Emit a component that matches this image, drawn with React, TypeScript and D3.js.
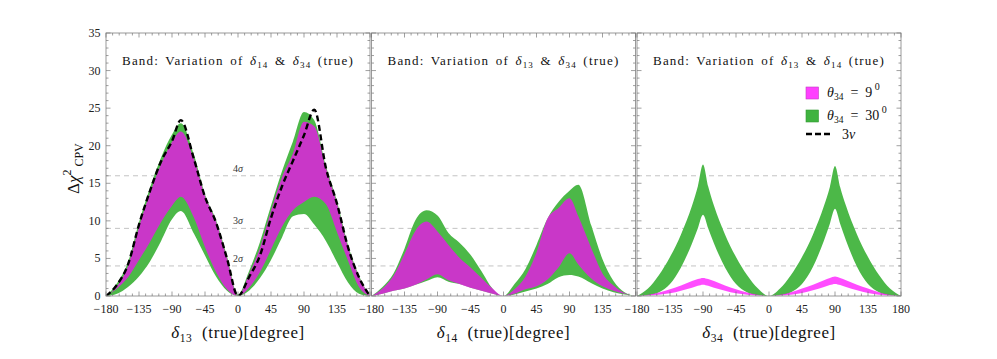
import React from "react";
import * as d3 from "d3";

// panel 1: δ13 (true)
const d13X = [-180, -165, -150, -135, -120, -105, -90, -78, -60, -45, -30, -15, 0, 15, 30, 45, 60, 75, 90, 104, 120, 135, 150, 165, 180];
const d13Nu3 = [0, 1.5, 4.2, 9.5, 14.0, 17.9, 20.6, 23.4, 18.2, 13.2, 9.8, 5.0, 0, 2.5, 5.4, 10.4, 14.6, 18.0, 21.4, 24.8, 17.0, 12.3, 6.5, 2.5, 0];
const d13GreenHi = [0, 1.7, 4.5, 9.8, 14.4, 18.4, 21.5, 23.0, 18.8, 13.5, 10.1, 5.3, 0.2, 3.3, 7.2, 12.0, 16.6, 20.6, 24.5, 23.4, 17.3, 12.6, 6.8, 2.7, 0];
const d13GreenLo = [0, 0.3, 1.2, 2.6, 4.6, 7.3, 10.2, 11.3, 8.3, 5.4, 2.6, 0.7, 0, 0.7, 2.4, 4.8, 7.8, 10.6, 10.9, 9.5, 7.3, 4.5, 1.8, 0.3, 0];
const d13MagHi = [0, 1.3, 4.0, 9.2, 13.7, 17.5, 20.5, 21.9, 18.2, 13.3, 9.9, 5.0, 0, 2.9, 6.4, 11.3, 15.8, 19.0, 23.2, 22.6, 17.0, 12.3, 6.5, 2.5, 0];
const d13MagLo = [0, 1.0, 2.5, 4.8, 7.2, 9.8, 12.0, 13.2, 10.4, 6.5, 3.2, 0.9, 0, 1.1, 3.2, 6.2, 9.2, 11.4, 12.5, 13.2, 12.2, 8.5, 4.7, 1.2, 0];

// panel 2: δ14 (true)
const d14X = [-180, -165, -150, -135, -120, -105, -90, -75, -60, -45, -30, -15, 0, 15, 30, 45, 60, 75, 90, 102, 120, 135, 150, 165, 180];
const d14GreenHi = [0, 1.2, 3.0, 6.3, 10.1, 11.4, 10.7, 8.4, 7.1, 5.5, 3.3, 1.0, 0, 1.6, 3.6, 6.8, 10.3, 12.5, 14.0, 14.8, 9.3, 4.9, 2.0, 0.5, 0];
const d14GreenLo = [0, 0.3, 0.7, 1.0, 1.5, 2.0, 2.5, 1.9, 1.6, 1.1, 0.7, 0.3, 0, 0.2, 0.6, 1.0, 1.6, 2.5, 2.8, 2.6, 1.7, 1.0, 0.5, 0.2, 0];
const d14MagHi = [0, 1.0, 2.7, 5.6, 8.7, 9.9, 8.6, 6.8, 5.1, 3.8, 2.4, 1.0, 0, 0.9, 2.6, 5.8, 10.3, 11.7, 13.0, 10.6, 6.3, 3.0, 1.4, 0.4, 0];
const d14MagLo = [0, 0.3, 0.7, 1.0, 1.5, 2.2, 2.9, 2.1, 1.6, 1.1, 0.7, 0.3, 0, 0.3, 0.9, 1.3, 2.2, 3.8, 5.7, 4.2, 2.3, 1.3, 0.7, 0.3, 0];

// panel 3: δ34 (true)
const d34X = [-180, -165, -150, -135, -120, -105, -97, -90, -83, -75, -60, -45, -30, -15, 0, 15, 30, 45, 60, 75, 83, 90, 97, 105, 120, 135, 150, 165, 180];
const d34GreenHi = [0, 1.0, 2.8, 5.2, 8.2, 12.0, 14.6, 17.5, 14.6, 12.0, 8.2, 5.2, 2.8, 1.0, 0, 1.0, 2.8, 5.2, 8.2, 12.0, 14.5, 17.3, 14.5, 12.0, 8.2, 5.2, 2.8, 1.0, 0];
const d34GreenLo = [0, 0.1, 0.5, 1.6, 3.8, 7.0, 9.0, 10.8, 9.0, 7.0, 3.8, 1.6, 0.5, 0.1, 0, 0.1, 0.5, 1.6, 3.9, 7.4, 9.6, 11.6, 9.6, 7.4, 3.9, 1.6, 0.5, 0.1, 0];
const d34MagHi = [0, 0.15, 0.45, 0.9, 1.4, 2.0, 2.25, 2.4, 2.25, 2.0, 1.4, 0.9, 0.45, 0.15, 0, 0.15, 0.5, 1.0, 1.5, 2.1, 2.4, 2.6, 2.4, 2.1, 1.5, 1.0, 0.5, 0.15, 0];
const d34MagLo = [0, 0.05, 0.15, 0.35, 0.7, 1.1, 1.35, 1.5, 1.35, 1.1, 0.7, 0.35, 0.15, 0.05, 0, 0.05, 0.15, 0.4, 0.75, 1.2, 1.45, 1.6, 1.45, 1.2, 0.75, 0.4, 0.15, 0.05, 0];

const yTicks = [0, 5, 10, 15, 20, 25, 30, 35];
const xTicks = [-180, -135, -90, -45, 0, 45, 90, 135, 180];
const sigmaLevels = [4, 9, 16];
const sigmaNames = ["2", "3", "4"];
const legendNames = ["9", "30"];

const W = 997;
const H = 359;
const PW = 264;
const panelLefts = [106, 371.5, 637];
const TOP = 33;
const BOTTOM = 296;
const GREEN = "#4cb848";
const MAGENTA = "#ff00ff";
const FONT = "Liberation Serif, Times New Roman, Times, DejaVu Serif, serif";

const y = d3.scaleLinear().domain([0, 35]).range([BOTTOM, TOP]);

type PanelProps = {
  left: number;
  xs: number[];
  gHi: number[];
  gLo: number[];
  mHi: number[];
  mLo: number[];
  nu3?: number[];
  titleSubs: [string, string];
  xSub: string;
  first?: boolean;
  last?: boolean;
};

const Panel = ({ left, xs, gHi, gLo, mHi, mLo, nu3, titleSubs, xSub, first, last }: PanelProps) => {
  const x = d3.scaleLinear().domain([-180, 180]).range([left, left + PW]);
  const cx = left + PW / 2;

  const band = (lo: number[], hi: number[]) =>
    d3.area<number>()
      .x((_, i) => x(xs[i]))
      .y0((_, i) => y(lo[i]))
      .y1(d => y(d))
      .curve(d3.curveMonotoneX)(hi) || "";

  const line = d3.line<number>()
    .x((_, i) => x(xs[i]))
    .y(d => y(d))
    .curve(d3.curveMonotoneX);

  const minorX = d3.range(-180, 181, 9);
  const minorY = d3.range(0, 36, 1);
  const clipId = `clip-${Math.round(left)}`;
  const labelTicks = last ? xTicks : xTicks.slice(0, -1);

  return (
    <g>
      <defs>
        <clipPath id={clipId}>
          <rect x={left} y={TOP} width={PW} height={BOTTOM - TOP} />
        </clipPath>
      </defs>

      {/* sigma lines */}
      {sigmaLevels.map(s => (
        <line key={s} x1={left} x2={left + PW} y1={y(s)} y2={y(s)}
          stroke="#b4b4b4" strokeWidth={0.8} strokeDasharray="5,4" />
      ))}

      <g clipPath={`url(#${clipId})`}>
        <path d={band(gLo, gHi)} fill={GREEN} />
        <path d={band(mLo, mHi)} fill={MAGENTA} fillOpacity={0.7} />
        {nu3 && (
          <path d={line(nu3) || ""} fill="none" stroke="#000" strokeWidth={2.4} strokeDasharray="6,3.5" />
        )}
      </g>

      {/* frame */}
      <rect x={left} y={TOP} width={PW} height={BOTTOM - TOP} fill="none" stroke="#9a9a9a" strokeWidth={1} />

      {/* ticks on all sides */}
      {minorX.map(v => {
        const len = v % 45 === 0 ? 4.5 : 2.5;
        return (
          <g key={`tx${v}`} stroke="#777" strokeWidth={0.7}>
            <line x1={x(v)} x2={x(v)} y1={BOTTOM} y2={BOTTOM - len} />
            <line x1={x(v)} x2={x(v)} y1={TOP} y2={TOP + len} />
          </g>
        );
      })}
      {minorY.map(v => {
        const len = v % 5 === 0 ? 4.5 : 2.5;
        return (
          <g key={`ty${v}`} stroke="#777" strokeWidth={0.7}>
            <line x1={left} x2={left + len} y1={y(v)} y2={y(v)} />
            <line x1={left + PW} x2={left + PW - len} y1={y(v)} y2={y(v)} />
          </g>
        );
      })}

      {/* x tick labels */}
      {labelTicks.map(v => (
        <text key={`xl${v}`} x={x(v)} y={313} textAnchor="middle" fontSize={12} fill="#222">
          {v < 0 ? `\u2212${Math.abs(v)}` : `${v}`}
        </text>
      ))}

      {/* y tick labels */}
      {first && yTicks.map(v => (
        <text key={`yl${v}`} x={100.5} y={y(v) + 4} textAnchor="end" fontSize={12} fill="#222">{v}</text>
      ))}

      {/* sigma labels */}
      {first && sigmaLevels.map((s, i) => (
        <text key={`sl${s}`} x={cx} y={y(s) - 4} textAnchor="middle" fontSize={10} fill="#333">
          {sigmaNames[i]}<tspan fontStyle="italic">σ</tspan>
        </text>
      ))}

      {/* title */}
      <text x={cx} y={65} textAnchor="middle" fontSize={13} letterSpacing={1.2} wordSpacing={2} fill="#111">
        Band: Variation of <tspan fontStyle="italic">δ</tspan>
        <tspan fontSize={9} dy={3}>{titleSubs[0]}</tspan>
        <tspan dy={-3}> &amp; </tspan><tspan fontStyle="italic">δ</tspan>
        <tspan fontSize={9} dy={3}>{titleSubs[1]}</tspan>
        <tspan dy={-3}> (true)</tspan>
      </text>

      {/* x axis title */}
      <text x={cx} y={338} textAnchor="middle" fontSize={17} letterSpacing={0.6} fill="#111" style={{ whiteSpace: "pre" }}>
        <tspan fontStyle="italic">δ</tspan>
        <tspan fontSize={11.5} dy={4}>{xSub}</tspan>
        <tspan dy={-4}>{"  (true)[degree]"}</tspan>
      </text>
    </g>
  );
};

const Legend = () => {
  const lx = 806;
  const rows = [87, 110];
  return (
    <g>
      {rows.map((ry, i) => (
        <g key={i}>
          <rect x={lx} y={ry} width={12.5} height={12}
            fill={i === 0 ? "#ff40ff" : "#3fb33f"} stroke={i === 0 ? "#c040c0" : "#339933"} strokeWidth={0.6} />
          <text x={827} y={ry + 10} fontSize={14} fill="#111" style={{ whiteSpace: "pre" }}>
            <tspan fontStyle="italic">θ</tspan>
            <tspan fontSize={9.5} dy={3}>34</tspan>
            <tspan dy={-3}>{`  =  ${legendNames[i]}`}</tspan>
            <tspan fontSize={10} dy={-7}>{" 0"}</tspan>
          </text>
        </g>
      ))}
      <line x1={lx} x2={lx + 24} y1={134} y2={134} stroke="#000" strokeWidth={2.4} strokeDasharray="6,3" />
      <text x={842} y={138.5} fontSize={14} fill="#111">3<tspan fontStyle="italic">ν</tspan></text>
    </g>
  );
};

const App = () => {
  return (
    <svg width={W} height={H} style={{ position: "absolute", left: 0, top: 0, background: "#fff", fontFamily: FONT }}>
      <rect width={W} height={H} fill="#fff" />
      <Panel left={panelLefts[0]} xs={d13X} gHi={d13GreenHi} gLo={d13GreenLo} mHi={d13MagHi} mLo={d13MagLo}
        nu3={d13Nu3} titleSubs={["14", "34"]} xSub="13" first />
      <Panel left={panelLefts[1]} xs={d14X} gHi={d14GreenHi} gLo={d14GreenLo} mHi={d14MagHi} mLo={d14MagLo}
        titleSubs={["13", "34"]} xSub="14" />
      <Panel left={panelLefts[2]} xs={d34X} gHi={d34GreenHi} gLo={d34GreenLo} mHi={d34MagHi} mLo={d34MagLo}
        titleSubs={["13", "14"]} xSub="34" last />
      <Legend />
      {/* y axis title */}
      <text transform="translate(79,194) rotate(-90)" fontSize={17} fill="#111">
        Δ<tspan fontStyle="italic">χ</tspan>
        <tspan fontSize={12} dy={-8}>2</tspan>
        <tspan fontSize={12} dy={12} dx={3}>CPV</tspan>
      </text>
    </svg>
  );
};

export default App;
